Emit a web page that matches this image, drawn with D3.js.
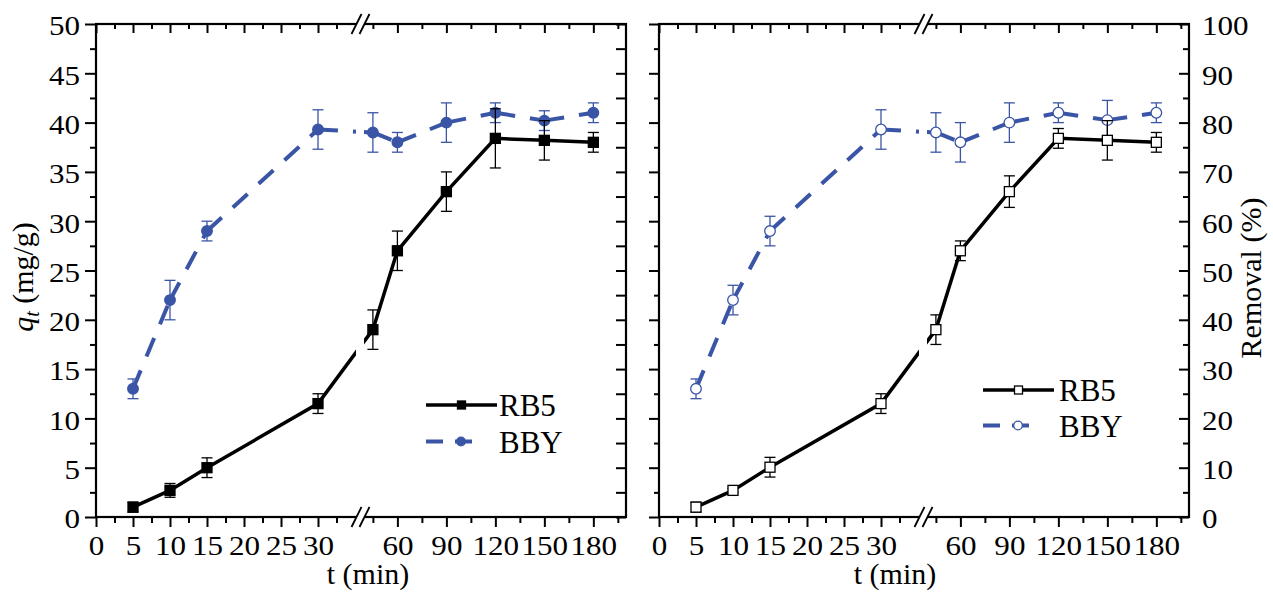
<!DOCTYPE html>
<html><head><meta charset="utf-8">
<script src="https://cdn.jsdelivr.net/npm/d3@7"></script>
<style>
body{margin:0;background:#fff}
svg{display:block}
svg text{font-family:"Liberation Serif","Times New Roman",Times,"Nimbus Roman",Tinos,serif !important;}
</style>
</head><body>
<svg id="c" width="1273" height="597" font-family="Liberation Serif, Times New Roman, serif"></svg>
<script>
// ---------- data ----------
const times = [5, 10, 15, 30, 45, 60, 90, 120, 150, 180];
const seriesNames = ["RB5", "BBY"];
// adsorption capacity q_t (mg/g)
const rb5Q    = [1.0, 2.7, 5.0, 11.5, 19.0, 27.0, 33.0, 38.4, 38.2, 38.0];
const rb5QErr = [0.5, 0.7, 1.0, 1.0, 2.0, 2.0, 2.0, 3.0, 2.0, 1.0];
const bbyQ    = [13.0, 22.0, 29.0, 39.3, 39.0, 38.0, 40.0, 41.0, 40.2, 41.0];
const bbyQErr = [1.0, 2.0, 1.0, 2.0, 2.0, 1.0, 2.0, 1.0, 1.0, 1.0];
// removal (%)
const rb5R    = [2.0, 5.4, 10.1, 23.0, 38.0, 54.0, 66.0, 76.8, 76.4, 76.0];
const rb5RErr = [1.0, 0.4, 2.0, 2.0, 3.0, 2.0, 3.2, 2.0, 4.0, 2.0];
const bbyR    = [26.0, 44.0, 58.0, 78.6, 78.0, 76.0, 80.0, 82.0, 80.5, 82.0];
const bbyRErr = [2.0, 3.0, 3.0, 4.0, 4.0, 4.0, 4.0, 2.0, 4.0, 2.0];
// axes
const xBreakDomain = [0, 35, 42, 200];
const xMajorTicks = [0, 5, 10, 15, 20, 25, 30, 60, 90, 120, 150, 180];
const xMinorTicks = [2.5, 7.5, 12.5, 17.5, 22.5, 27.5, 32.5, 45, 75, 105, 135, 165, 195];
const qMajorTicks = [0, 5, 10, 15, 20, 25, 30, 35, 40, 45, 50];
const qMinorTicks = [2.5, 7.5, 12.5, 17.5, 22.5, 27.5, 32.5, 37.5, 42.5, 47.5];
const rMajorTicks = [0, 10, 20, 30, 40, 50, 60, 70, 80, 90, 100];
const rMinorTicks = [5, 15, 25, 35, 45, 55, 65, 75, 85, 95];
const xTitle = "t (min)";
const rTitle = "Removal (%)";

// ---------- layout ----------
const FONT = "'Liberation Serif', 'Times New Roman', Times, serif";
const svg = d3.select("#c");
const BLUE = "#3A55A6";
const TOP = 24, BOT = 517, PW = 530;
const SX = 1.15; // horizontal stretch of tick labels

function drawPanel(p) {
  const g = svg.append("g");
  const x0 = p.x0, x1 = p.x0 + PW;
  const x = d3.scaleLinear().domain(xBreakDomain).range([x0, x0 + 259, x0 + 272, x1]);
  const y = d3.scaleLinear().domain([0, p.yMax]).range([BOT, TOP]);

  g.append("rect").attr("x", x0).attr("y", TOP).attr("width", PW).attr("height", BOT - TOP)
    .attr("fill", "none").attr("stroke", "#000").attr("stroke-width", 2.2);

  function ax(gen, tx, ty, vals, size, labels) {
    const a = g.append("g").attr("transform", `translate(${tx},${ty})`)
      .call(gen.tickValues(vals).tickSize(size).tickFormat(labels ? (d => d) : ""));
    a.attr("font-family", FONT);
    a.select(".domain").remove();
    a.selectAll("line").attr("stroke", "#000").attr("stroke-width", 2);
    a.selectAll("text").attr("font-size", 27).attr("fill", "#000").attr("font-family", FONT);
    return a;
  }
  // bottom
  const b = ax(d3.axisBottom(x), 0, BOT, xMajorTicks, 10, true);
  b.selectAll("text").attr("y", 38).attr("dy", null).attr("transform", `scale(${SX},1)`);
  ax(d3.axisBottom(x), 0, BOT, xMinorTicks, 6, false);
  // top
  ax(d3.axisTop(x), 0, TOP, xMajorTicks, -9, false);
  ax(d3.axisTop(x), 0, TOP, xMinorTicks, -5, false);
  // left / right
  if (p.labelsLeft) {
    const l = ax(d3.axisLeft(y), x0, 0, p.yMajor, 11, true);
    l.selectAll("text").attr("x", -16 / SX).attr("dy", "0.4em").attr("transform", `scale(${SX},1)`);
    ax(d3.axisLeft(y), x0, 0, p.yMinor, 6, false);
    ax(d3.axisRight(y), x1, 0, p.yMajor, -10, false);
    ax(d3.axisRight(y), x1, 0, p.yMinor, -10, false);
  } else {
    ax(d3.axisLeft(y), x0, 0, p.yMajor, 10, false);
    ax(d3.axisLeft(y), x0, 0, p.yMinor, 5, false);
    const r = ax(d3.axisRight(y).tickPadding(13), x1, 0, p.yMajor, -10, true);
    r.selectAll("text").attr("x", 13 / SX).attr("dy", "0.4em").attr("transform", `scale(${SX},1)`);
    ax(d3.axisRight(y), x1, 0, p.yMinor, -6, false);
  }

  // series
  function errorBars(vals, errs, color) {
    const e = g.append("g").attr("stroke", color).attr("stroke-width", 1.3);
    times.forEach((t, i) => {
      const cx = x(t), ylo = y(vals[i] - errs[i]), yhi = y(vals[i] + errs[i]);
      e.append("line").attr("x1", cx).attr("x2", cx).attr("y1", ylo).attr("y2", yhi);
      e.append("line").attr("x1", cx - 5.5).attr("x2", cx + 5.5).attr("y1", ylo).attr("y2", ylo);
      e.append("line").attr("x1", cx - 5.5).attr("x2", cx + 5.5).attr("y1", yhi).attr("y2", yhi);
    });
  }
  // BBY
  errorBars(p.bby, p.bbyErr, BLUE);
  for (let i = 0; i < times.length - 1; i++) {
    g.append("path")
      .attr("d", d3.line()([[x(times[i]), y(p.bby[i])], [x(times[i + 1]), y(p.bby[i + 1])]]))
      .attr("fill", "none").attr("stroke", BLUE).attr("stroke-width", 4)
      .attr("stroke-dasharray", "20,15");
  }
  g.append("g").selectAll("circle").data(times).join("circle")
    .attr("cx", d => x(d)).attr("cy", (d, i) => y(p.bby[i])).attr("r", 5.3)
    .attr("fill", p.filled ? BLUE : "#fff").attr("stroke", BLUE).attr("stroke-width", 1.3);
  // RB5
  errorBars(p.rb5, p.rb5Err, "#000");
  g.append("path").datum(times)
    .attr("d", d3.line().x(d => x(d)).y((d, i) => y(p.rb5[i])))
    .attr("fill", "none").attr("stroke", "#000").attr("stroke-width", 3.5);
  g.append("g").selectAll("rect").data(times).join("rect")
    .attr("x", d => x(d) - 5).attr("y", (d, i) => y(p.rb5[i]) - 5).attr("width", 10).attr("height", 10)
    .attr("fill", p.filled ? "#000" : "#fff").attr("stroke", "#000").attr("stroke-width", 1.3);

  // axis break
  const bx = x0 + 264.5;
  g.append("rect").attr("x", bx - 4.5).attr("y", TOP - 2).attr("width", 8).attr("height", BOT - TOP + 4)
    .attr("fill", "#fff");
  [TOP, BOT].forEach(yy => {
    [bx - 4, bx + 4].forEach(c => {
      g.append("line").attr("x1", c - 5).attr("y1", yy + 10).attr("x2", c + 5).attr("y2", yy - 10)
        .attr("stroke", "#000").attr("stroke-width", 1.8);
    });
  });

  // legend
  const L = p.legend;
  g.append("line").attr("x1", L.x).attr("x2", L.x + 71).attr("y1", L.y1).attr("y2", L.y1)
    .attr("stroke", "#000").attr("stroke-width", 3.5);
  g.append("rect").attr("x", L.x + 35.5 - 4).attr("y", L.y1 - 4).attr("width", 8).attr("height", 8)
    .attr("fill", p.filled ? "#000" : "#fff").attr("stroke", "#000").attr("stroke-width", 1.3);
  g.append("line").attr("x1", L.x).attr("x2", L.x + 47).attr("y1", L.y2).attr("y2", L.y2)
    .attr("stroke", BLUE).attr("stroke-width", 4).attr("stroke-dasharray", "17,12");
  g.append("circle").attr("cx", L.x + 35).attr("cy", L.y2).attr("r", 4.3)
    .attr("fill", p.filled ? BLUE : "#fff").attr("stroke", BLUE).attr("stroke-width", 1.3);
  g.append("text").attr("x", L.tx).attr("y", L.y1 + 11).attr("font-size", 31).attr("font-family", FONT).text(seriesNames[0]);
  g.append("text").attr("x", L.tx).attr("y", L.y2 + 11).attr("font-size", 31).attr("font-family", FONT).text(seriesNames[1]);

  // x title
  g.append("text").attr("x", p.xTitleX).attr("y", 584).attr("text-anchor", "middle")
    .attr("font-size", 30).attr("font-family", FONT).text(xTitle);
}

drawPanel({x0: 96, yMax: 50, yMajor: qMajorTicks, yMinor: qMinorTicks, labelsLeft: true, filled: true,
  rb5: rb5Q, rb5Err: rb5QErr, bby: bbyQ, bbyErr: bbyQErr,
  legend: {x: 426, y1: 405, y2: 441.5, tx: 499}, xTitleX: 368});
drawPanel({x0: 659, yMax: 100, yMajor: rMajorTicks, yMinor: rMinorTicks, labelsLeft: false, filled: false,
  rb5: rb5R, rb5Err: rb5RErr, bby: bbyR, bbyErr: bbyRErr,
  legend: {x: 983, y1: 390, y2: 425.5, tx: 1059}, xTitleX: 895});

// y titles
const yl = svg.append("text").attr("transform", "translate(33,277) rotate(-90)")
  .attr("text-anchor", "middle").attr("font-size", 30).attr("font-family", FONT);
yl.append("tspan").attr("font-style", "italic").text("q");
yl.append("tspan").attr("font-style", "italic").attr("font-size", 20).attr("dy", 6).text("t");
yl.append("tspan").attr("dy", -6).text(" (mg/g)");
svg.append("text").attr("transform", "translate(1261,278) rotate(-90)")
  .attr("text-anchor", "middle").attr("font-size", 30).attr("font-family", FONT).text(rTitle);
</script>
</body></html>
